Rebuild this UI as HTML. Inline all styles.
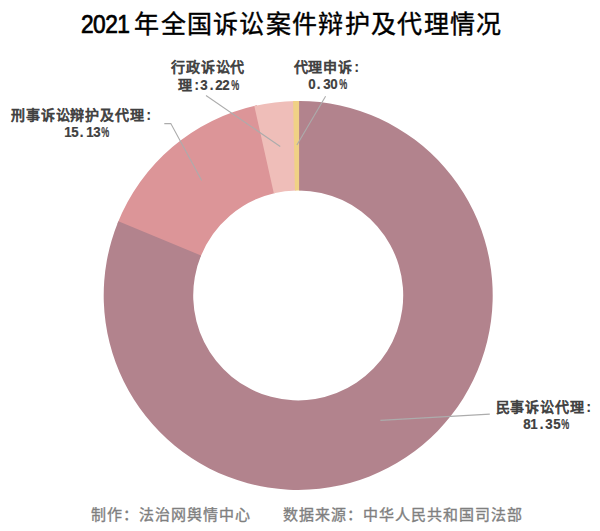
<!DOCTYPE html>
<html lang="zh-CN">
<head>
<meta charset="utf-8">
<style>
html,body{margin:0;padding:0;background:#fff;}
body{width:600px;height:531px;position:relative;overflow:hidden;font-family:"Liberation Sans",sans-serif;}
.t{position:absolute;white-space:nowrap;}
#title{left:81px;top:7px;font-size:25px;letter-spacing:1.3px;font-weight:400;color:#000;line-height:34px;-webkit-text-stroke:0.4px #000;}
#title .d{font-size:25px;letter-spacing:-0.6px;display:inline-block;transform:scaleX(0.91);transform-origin:0 50%;-webkit-text-stroke:0.7px #000;}
.lab{position:absolute;font-size:14px;letter-spacing:0.86px;font-weight:normal;-webkit-text-stroke:0.75px #404040;color:#404040;line-height:18px;white-space:nowrap;}
.lab i{font-weight:bold;-webkit-text-stroke:0.2px #404040;display:inline-block;width:7.4px;text-align:center;font-style:normal;font-size:14px;letter-spacing:0;transform:scaleX(0.95);}
.lab i.p{transform:scaleX(0.64);}
#foot{left:91px;top:504px;font-size:15px;letter-spacing:1px;color:#7F7F7F;line-height:22px;-webkit-text-stroke:0.35px #7F7F7F;}
svg{position:absolute;left:0;top:0;}
</style>
</head>
<body>
<svg width="600" height="531" viewBox="0 0 600 531">
<path fill="#DC9598" d="M117.37,223.77 A194.5,194.5 0 0 1 256.96,105.32 L275.24,192.94 A105,105 0 0 0 200.48,256.99 Z"/>
<path fill="#EFBEB9" d="M254.31,105.92 A194.5,194.5 0 0 1 295.82,100.91 L296.37,190.42 A105,105 0 0 0 273.81,193.27 Z"/>
<path fill="#F0D185" d="M293.11,100.97 A194.5,194.5 0 0 1 301.82,100.93 L300.56,190.43 A105,105 0 0 0 294.90,190.45 Z"/>
<path fill="#B2838D" d="M299.10,100.90 A194.5,194.5 0 1 1 118.39,221.25 L201.03,255.62 A105,105 0 1 0 299.10,190.40 Z"/>
<g stroke="#ACACAC" stroke-width="1.1" fill="none">
<polyline points="164.3,123.6 170.8,123.6 201.7,180.5"/>
<polyline points="206,95.5 280.25,146.5"/>
<polyline points="325.6,96.2 296.9,145"/>
<polyline points="380.4,420.4 489.8,414.1"/>
</g>
</svg>
<div class="t" id="title"><span class="d">2021</span>年全国诉讼案件辩护及代理情况</div>
<div class="lab" style="left:171px;top:58px;">行政诉讼代</div>
<div class="lab" style="left:178px;top:75.5px;">理<i>:</i><i>3</i><i>.</i><i>2</i><i>2</i><i class="p">%</i></div>
<div class="lab" style="left:293.5px;top:58px;">代理申诉<i>:</i></div>
<div class="lab" style="left:308px;top:74.5px;"><i>0</i><i>.</i><i>3</i><i>0</i><i class="p">%</i></div>
<div class="lab" style="left:11px;top:106px;">刑事诉讼辩护及代理<i>:</i></div>
<div class="lab" style="left:63.5px;top:122.5px;"><i>1</i><i>5</i><i>.</i><i>1</i><i>3</i><i class="p">%</i></div>
<div class="lab" style="left:495.5px;top:398px;">民事诉讼代理<i>:</i></div>
<div class="lab" style="left:523px;top:414.5px;"><i>8</i><i>1</i><i>.</i><i>3</i><i>5</i><i class="p">%</i></div>
<div class="t" id="foot">制作：法治网舆情中心　　数据来源：中华人民共和国司法部</div>
</body>
</html>
